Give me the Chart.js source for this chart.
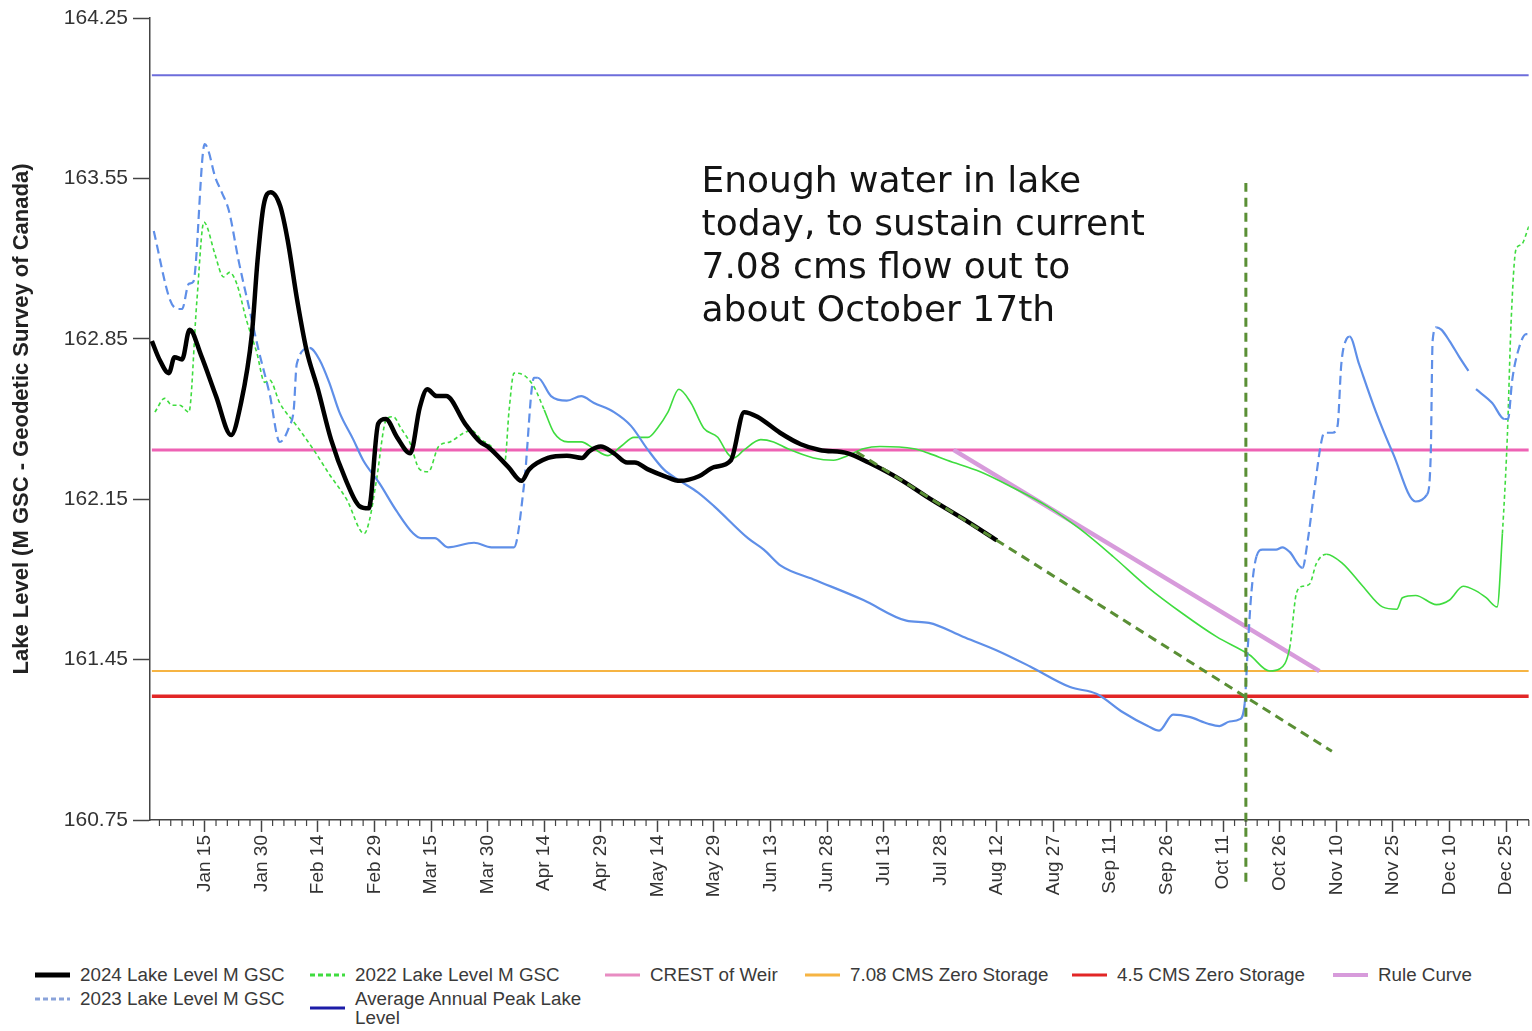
<!DOCTYPE html>
<html><head><meta charset="utf-8">
<script src="https://cdn.jsdelivr.net/npm/chart.js@4"></script>
<style>
html,body{margin:0;padding:0;background:#fff;}
#wrap{position:relative;width:1532px;height:1031px;overflow:hidden;}
#chartBox{position:absolute;left:0;top:0;width:1532px;height:940px;}
#legend{position:absolute;left:35px;top:965px;display:grid;grid-template-columns:275px 295px 200px 267px 261px auto;row-gap:5px;align-items:start;font-family:"Liberation Sans",Arial,sans-serif;font-size:18.8px;line-height:19px;color:#3a3a3a;}
.item{display:flex;align-items:center;}
.item svg{flex:0 0 35px;margin-right:10px;}
.item span{max-width:236px;}
</style></head><body>
<div id="wrap"><div id="chartBox"><canvas id="c"></canvas></div><div id="legend"></div></div>
<script>
// ---- data (day of year, Jan 1 = 0; levels in m GSC) ----
const days2024 = [0,2,4.5,6,8,10,13,17,21,23.5,26.5,28,29.6,31.5,34,36,38.5,41,44,47.5,51.5,55,57.5,60,62,65,68.5,71,73,75.5,78,83,87,89,94.5,98,100,105,110,114,116,119,122.5,126,128,131.5,136,140,145,149,153.5,157,160.5,166.5,172,177,184.5,190,198,206,215,224];
const level2024 = [162.84,162.76,162.70,162.77,162.76,162.89,162.78,162.60,162.43,162.56,162.87,163.19,163.43,163.49,163.43,163.28,163.02,162.80,162.63,162.41,162.23,162.12,162.11,162.48,162.50,162.42,162.35,162.55,162.63,162.60,162.60,162.48,162.40,162.38,162.29,162.23,162.28,162.33,162.34,162.33,162.36,162.38,162.35,162.31,162.31,162.28,162.25,162.23,162.25,162.29,162.32,162.53,162.51,162.44,162.39,162.365,162.35,162.31,162.24,162.155,162.065,161.97];

const days2023 = [0.5,4.8,7,8,9.8,11,14,15,16.7,18.5,20.4,23,25.7,28.3,31.2,33.9,36.5,37.6,38.4,41.8,44.4,47,49.7,53.4,56,60.3,64.8,69.3,71.4,75,78.5,85.4,90,96,98.7,101.3,102.3,105.8,110,113.8,117.2,122.5,127,131.5,135.7,140,144.7,149,158,162.2,166.7,175.4,188.6,200,206,215,224,232.8,243.4,250.5,257.4,264,267,270.7,275,280,283,285.7,288.4,289.7,290.5,291.5,292.8,294.4,298,299.7,301.6,305,306.4,308,310,310.8,313,314.3,315.3,316.7,317.5,320,324.5,329,335,338,339,339.5,340.5,341.8,344,346.6,349,350,351,355.3,358.5,359.5,360.6,362.4,364.3,365];
const level2023 = [163.32,163.02,162.98,162.98,163.09,163.10,163.70,163.67,163.56,163.49,163.41,163.19,162.99,162.80,162.61,162.40,162.47,162.54,162.74,162.81,162.76,162.66,162.53,162.41,162.32,162.22,162.10,162.00,161.98,161.98,161.94,161.96,161.94,161.94,162.22,162.68,162.68,162.60,162.58,162.60,162.57,162.53,162.47,162.365,162.28,162.23,162.18,162.12,161.98,161.93,161.86,161.80,161.71,161.62,161.61,161.55,161.49,161.42,161.33,161.30,161.22,161.16,161.14,161.21,161.20,161.17,161.16,161.18,161.19,161.26,161.50,161.75,161.90,161.93,161.93,161.94,161.92,161.85,161.97,162.17,162.40,162.44,162.44,162.47,162.74,162.85,162.86,162.74,162.53,162.35,162.14,162.17,162.34,162.84,162.90,162.89,162.84,162.77,162.71,null,162.63,162.57,162.50,162.50,162.67,162.81,162.87,162.87];

const days2022 = [0.8,3.4,5.3,7.4,9.8,11.9,13.8,14.6,16.7,19,20.6,22.5,25.1,27.8,29.9,31.2,33.9,38.4,42.9,47,51.6,56.3,57.7,59.5,62.2,64,66,68.3,71,73.3,76,79,82.8,84.7,87.3,90,92.6,93.5,94.7,96,98.7,101.3,104,106.6,110.3,113.8,117.2,120.9,124.3,127.8,131.5,134,136.8,139.7,142.9,146.3,150,152.6,154.2,157,161.4,164.8,168.6,175.4,180.7,184.4,188.6,193,202,206,210.8,219.6,228.3,237.3,246,254.8,263.7,273.3,282.2,291,296.3,299,301.6,303.4,305,306.9,308.7,311.4,315.6,321,326.2,330,331.5,335,340.5,344,347.6,351,353.7,356.6,358,359.3,360.3,361.6,363,365];
const level2022 = [162.53,162.59,162.56,162.56,162.53,163.01,163.36,163.34,163.22,163.12,163.14,163.09,162.93,162.79,162.66,162.67,162.57,162.47,162.365,162.26,162.15,162.00,162.06,162.23,162.50,162.51,162.46,162.40,162.28,162.27,162.38,162.40,162.44,162.45,162.41,162.38,162.32,162.31,162.54,162.70,162.69,162.64,162.54,162.44,162.40,162.40,162.37,162.34,162.38,162.42,162.42,162.46,162.53,162.63,162.57,162.46,162.42,162.35,162.33,162.365,162.41,162.40,162.37,162.33,162.32,162.34,162.37,162.38,162.37,162.35,162.32,162.27,162.20,162.12,162.02,161.90,161.77,161.65,161.55,161.47,161.40,161.41,161.50,161.74,161.77,161.78,161.87,161.91,161.87,161.77,161.68,161.67,161.72,161.73,161.69,161.71,161.77,161.75,161.72,161.68,162.00,162.42,162.92,163.24,163.26,163.34];

const avgPeakLevel = 164.00;
const crestLevel = 162.365;
const zero708Level = 161.40;
const zero45Level = 161.29;
const ruleDays = [212.5, 309.5];
const ruleLevels = [162.365, 161.40];
const projDays = [186.8, 312.8];
const projLevels = [162.356, 161.05];
const markerDay = 290;               // Oct 17
const markerLevels = [160.48, 163.53];
const yearStart = 0, yearEnd = 365;

const yTicks = [160.75, 161.45, 162.15, 162.85, 163.55, 164.25];
const xTickDays = [14,29,44,59,74,89,104,119,134,149,164,179,194,209,224,239,254,269,284,299,314,329,344,359];
const xTickLabels = ['Jan 15','Jan 30','Feb 14','Feb 29','Mar 15','Mar 30','Apr 14','Apr 29','May 14','May 29','Jun 13','Jun 28','Jul 13','Jul 28','Aug 12','Aug 27','Sep 11','Sep 26','Oct 11','Oct 26','Nov 10','Nov 25','Dec 10','Dec 25'];

const noteLines = ['Enough water in lake','today, to sustain current','7.08 cms flow out to','about October 17th'];
const noteDay = 145.7, noteLevel = 163.49;

// ---- helpers ----
const pts = (xs, ys) => xs.map((x, i) => ({x, y: ys[i]}));
const flat = v => [{x: yearStart, y: v}, {x: yearEnd, y: v}];
function dashIn(ranges, pattern) {
  return ctx => {
    const a = ctx.p0.parsed.x, b = ctx.p1.parsed.x;
    return ranges.some(r => a >= r[0] && b <= r[1]) ? pattern : undefined;
  };
}
const FONT = '"Liberation Sans", Arial, sans-serif';

const datasets = [
  {label:'Projection', legend:false, data: pts(projDays, projLevels), borderColor:'#5a8f35', borderWidth:3, borderDash:[9,6], order:0},
  {label:'Marker', legend:false, data: pts([markerDay, markerDay], markerLevels), borderColor:'#5a8f35', borderWidth:3, borderDash:[9,6], order:0, clip:false},
  {label:'2024 Lake Level M GSC', data: pts(days2024, level2024), borderColor:'#000', borderWidth:4.5, cubicInterpolationMode:'monotone', order:1, legendWidth:5},
  {label:'2022 Lake Level M GSC', data: pts(days2022, level2022), borderColor:'#3fdc3f', borderWidth:1.6, cubicInterpolationMode:'monotone', order:3,
     segment:{borderDash: dashIn([[0,104.5],[300,312],[357,366]], [4,3])}, legendDash:'5,3', legendWidth:3},
  {label:'CREST of Weir', data: flat(crestLevel), borderColor:'#ee62b4', borderWidth:3, order:5, legendColor:'#e88cc2', legendWidth:3},
  {label:'7.08 CMS Zero Storage', data: flat(zero708Level), borderColor:'#f6b443', borderWidth:2, order:6, legendWidth:3},
  {label:'4.5 CMS Zero Storage', data: flat(zero45Level), borderColor:'#e22626', borderWidth:3.5, order:7, legendWidth:3},
  {label:'Rule Curve', data: pts(ruleDays, ruleLevels), borderColor:'#d79bdb', borderWidth:4.5, order:4, legendWidth:4},
  {label:'2023 Lake Level M GSC', data: pts(days2023, level2023), borderColor:'#5f8fe8', borderWidth:2.2, cubicInterpolationMode:'monotone', order:2, spanGaps:false,
     segment:{borderDash: dashIn([[0,42],[95,103],[289,294],[305,318],[338,341],[358,366]], [9,5])}, legendDash:'5,3', legendColor:'#8aa3da', legendWidth:3},
  {label:'Average Annual Peak Lake Level', data: flat(avgPeakLevel), borderColor:'#6d6ddb', borderWidth:2, order:8, legendColor:'#1c1ca8', legendWidth:3},
];
datasets.forEach(d => { d.pointRadius = 0; d.fill = false; });

const minorTicks = {
  id:'minorTicks',
  afterDraw(chart) {
    const xs = chart.scales.x, ctx = chart.ctx, y0 = chart.chartArea.bottom;
    ctx.save(); ctx.strokeStyle = '#444'; ctx.lineWidth = 1.2;
    for (let d = 2; d <= 365; d += 3) {
      if (xTickDays.includes(d)) continue;
      const px = xs.getPixelForValue(d);
      ctx.beginPath(); ctx.moveTo(px, y0); ctx.lineTo(px, y0 + 6); ctx.stroke();
    }
    ctx.restore();
  }
};
const noteText = {
  id:'noteText',
  afterDatasetsDraw(chart) {
    const {ctx, scales:{x, y}} = chart;
    ctx.save();
    ctx.font = '36px "DejaVu Sans", Verdana, sans-serif';
    ctx.fillStyle = '#141414'; ctx.textBaseline = 'alphabetic'; ctx.textAlign = 'left';
    const px = x.getPixelForValue(noteDay), py = y.getPixelForValue(noteLevel);
    noteLines.forEach((t, i) => ctx.fillText(t, px, py + i * 43));
    ctx.restore();
  }
};

const chart = new Chart(document.getElementById('c'), {
  type:'line',
  data:{datasets},
  options:{
    responsive:true, maintainAspectRatio:false, animation:false,
    layout:{padding:{top:18, right:2, left:0, bottom:0}},
    plugins:{legend:{display:false}, tooltip:{enabled:false}},
    scales:{
      x:{type:'linear', min:-0.5, max:365,
        afterBuildTicks: s => { s.ticks = xTickDays.map(v => ({value:v})); },
        afterFit: s => { s.height = 120; },
        ticks:{autoSkip:false, maxRotation:90, minRotation:90, padding:3, color:'#333',
          font:{family:FONT, size:19}, callback:(v, i) => xTickLabels[i]},
        grid:{drawOnChartArea:false, drawTicks:true, tickLength:12, tickColor:'#444', tickWidth:1.5},
        border:{display:true, color:'#444', width:1.5}
      },
      y:{type:'linear', min:160.75, max:164.25,
        afterBuildTicks: s => { s.ticks = yTicks.map(v => ({value:v})); },
        afterFit: s => { s.width = 150; },
        ticks:{padding:5, color:'#333', font:{family:FONT, size:21}, callback:v => Number(v).toFixed(2)},
        grid:{drawOnChartArea:false, drawTicks:true, tickLength:17, tickColor:'#444', tickWidth:1.5},
        border:{display:true, color:'#444', width:1.5},
        title:{display:true, text:'Lake Level (M GSC - Geodetic Survey of Canada)', color:'#222',
          font:{family:FONT, size:22, weight:'bold'}, padding:{top:9, bottom:0}}
      }
    }
  },
  plugins:[minorTicks, noteText]
});

// ---- HTML legend built from datasets ----
const lg = document.getElementById('legend');
datasets.filter(d => d.legend !== false).forEach(d => {
  const el = document.createElement('div'); el.className = 'item';
  const col = d.legendColor || d.borderColor, w = d.legendWidth || 3;
  el.innerHTML = `<svg width="35" height="10"><line x1="0" y1="5" x2="35" y2="5" stroke="${col}" stroke-width="${w}" ${d.legendDash ? `stroke-dasharray="${d.legendDash}"` : ''}/></svg><span></span>`;
  el.querySelector('span').textContent = d.label;
  lg.appendChild(el);
});
</script>
</body></html>
